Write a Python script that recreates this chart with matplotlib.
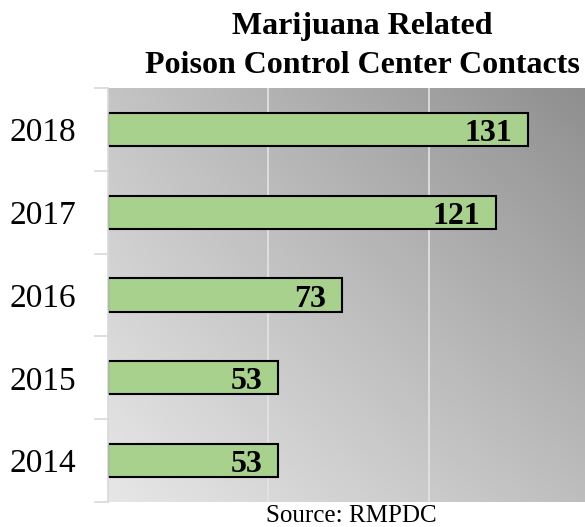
import matplotlib
matplotlib.use("Agg")
import matplotlib.pyplot as plt
import numpy as np

years = ["2014", "2015", "2016", "2017", "2018"]
contacts = [53, 53, 73, 121, 131]
title = "Marijuana Related\nPoison Control Center Contacts"
source = "Source: RMPDC"

serif = ["Liberation Serif", "DejaVu Serif"]

fig = plt.figure(figsize=(5.85, 5.27), dpi=100)
ax = fig.add_axes([108/585, 1-502/527, 1-108/585, (502-88)/527])

# gradient background (bilinear between four corners)
c_bl, c_tl, c_br, c_tr = 0.905, 0.77, 0.745, 0.56
n = 200
u = np.linspace(0, 1, n)
v = np.linspace(0, 1, n)
U, V = np.meshgrid(u, v)
G = (c_bl*(1-U)*(1-V) + c_br*U*(1-V) + c_tl*(1-U)*V + c_tr*U*V)
img = np.dstack([G, G, G])
ax.imshow(img, extent=[0, 1, 0, 1], transform=ax.transAxes, origin="lower",
          aspect="auto", zorder=0, interpolation="bilinear")

ypos = np.arange(len(years))
ax.set_xlim(0, 148.8)
ax.set_ylim(-0.5, len(years)-0.5)
for x in [50, 100]:
    ax.axvline(x, color="#e4e4e4", lw=1.2, zorder=1)

ax.barh(ypos, contacts, height=0.4, color="#a9d18e", edgecolor="black",
        linewidth=1.5, zorder=2)
for y, val in zip(ypos, contacts):
    ax.text(val - 4.8, y - 0.05, str(val), ha="right", va="center", fontsize=23,
            fontweight="bold", family=serif, zorder=3)

ax.set_yticks(ypos)
ax.set_yticklabels(years, family=serif, fontsize=24)
ax.tick_params(axis="y", which="major", length=0, pad=23)
ax.set_yticks(np.arange(-0.5, len(years)), minor=True)
ax.tick_params(axis="y", which="minor", length=10, color="#d9d9d9", width=1.2)
ax.set_xticks([])
for s in ["top", "right", "bottom"]:
    ax.spines[s].set_visible(False)
ax.spines["left"].set_color("#d9d9d9")
ax.spines["left"].set_linewidth(1.2)

fig.text(362/585, 1-46/527, title, ha="center", va="center", fontsize=23,
         fontweight="bold", family=serif, linespacing=1.45)
fig.text(351/585, 1-516/527, source, ha="center", va="center", fontsize=18,
         family=serif)

fig.savefig("out.png", dpi=100)
